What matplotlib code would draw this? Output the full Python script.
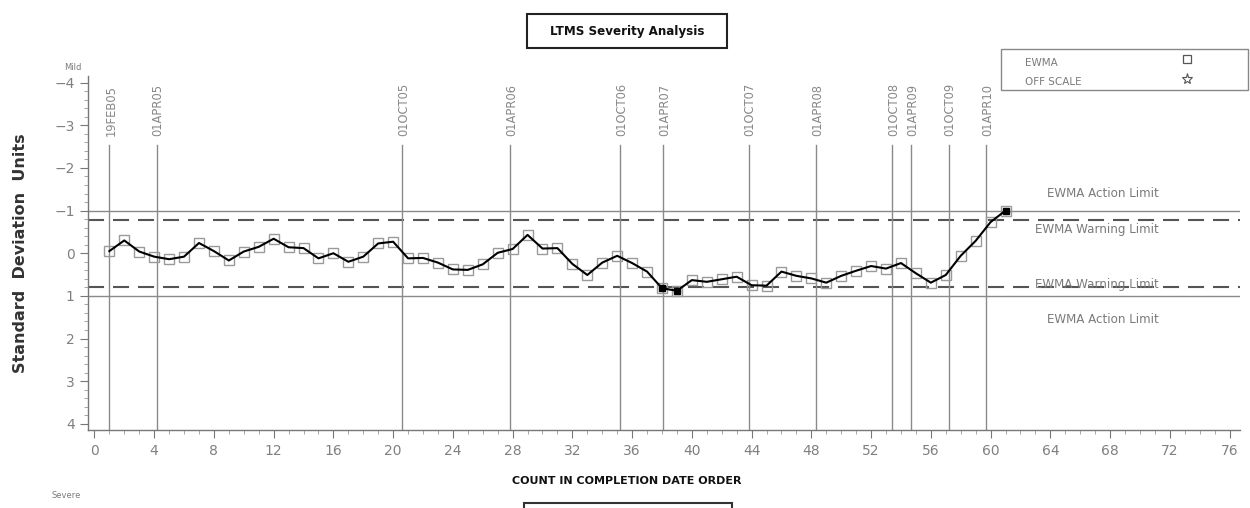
import matplotlib
matplotlib.use("Agg")
import matplotlib.pyplot as plt
from matplotlib import font_manager
from matplotlib.patches import Rectangle
from matplotlib.ticker import MultipleLocator

# pick a condensed face if there is one
installed = {f.name for f in font_manager.fontManager.ttflist}
narrow = 'Liberation Sans Narrow' if 'Liberation Sans Narrow' in installed else 'DejaVu Sans'
plt.rcParams['font.family'] = [narrow, 'DejaVu Sans']

# EWMA values in standard deviation units, one per test (count 1..61)
counts = list(range(1, 62))
ewma = [-0.05, -0.30, -0.04, 0.08, 0.14, 0.08, -0.24, -0.05, 0.17, -0.04,
        -0.15, -0.34, -0.14, -0.12, 0.12, 0.00, 0.20, 0.08, -0.23, -0.27,
        0.12, 0.11, 0.22, 0.38, 0.39, 0.26, -0.01, -0.10, -0.43, -0.11,
        -0.12, 0.25, 0.51, 0.22, 0.06, 0.23, 0.43, 0.82, 0.88, 0.63,
        0.67, 0.61, 0.55, 0.75, 0.76, 0.43, 0.53, 0.59, 0.69, 0.53,
        0.41, 0.30, 0.36, 0.23, 0.47, 0.69, 0.51, 0.06, -0.29, -0.73,
        -1.00]

action_limit = 1.0
warning_limit = 0.78

# date reference lines (position in count order)
date_labels = ['19FEB05', '01APR05', '01OCT05', '01APR06', '01OCT06', '01APR07',
               '01OCT07', '01APR08', '01OCT08', '01APR09', '01OCT09', '01APR10']
date_pos = [1.0, 4.17, 20.62, 27.84, 35.2, 38.1, 43.8, 48.33, 53.4, 54.67, 57.2, 59.72]

gray = '#7a7a7a'

fig = plt.figure(figsize=(12.5, 5.08), dpi=100)
ax = fig.add_axes([0.0704, 0.153, 0.9216, 0.697])
ax.set_xlim(-0.43, 76.7)
ax.set_ylim(4.15, -4.15)

# limits
for s in (-1, 1):
    ax.axhline(s * action_limit, color='#8a8a8a', lw=1.0, zorder=1)
    ax.axhline(s * warning_limit, color='#555555', lw=1.5, dashes=(7.7, 4.3), zorder=1)

# date lines + rotated labels
for lab, xp in zip(date_labels, date_pos):
    ax.plot([xp, xp], [-2.54, 4.15], color='#8a8a8a', lw=1.0, zorder=1)
    ax.text(xp + 0.1, -2.75, lab, rotation=90, ha='center', va='bottom',
            fontsize=8.3, color='#888888')

# EWMA series
ax.plot(counts, ewma, color='black', lw=1.5, zorder=3)
ax.plot(counts, ewma, ls='none', marker='s', ms=6.5, mfc='none',
        mec='#9a9a9a', mew=1.0, zorder=2)
out_x = [c for c, v in zip(counts, ewma) if abs(v) > warning_limit]
out_y = [v for v in ewma if abs(v) > warning_limit]
ax.plot(out_x, out_y, ls='none', marker='s', ms=5, color='black', zorder=4)

# limit names on the right
lim_kw = dict(ha='center', va='center', fontsize=8.6, color=gray)
ax.text(67.55, -1.39, 'EWMA Action Limit', **lim_kw)
ax.text(67.1, -0.55, 'EWMA Warning Limit', **lim_kw)
ax.text(67.1, 0.74, 'EWMA Warning Limit', **lim_kw)
ax.text(67.55, 1.56, 'EWMA Action Limit', **lim_kw)

# axes styling
for side in ('top', 'right'):
    ax.spines[side].set_visible(False)
for side in ('left', 'bottom'):
    ax.spines[side].set_color('#777777')
    ax.spines[side].set_linewidth(1.0)

ax.xaxis.set_major_locator(MultipleLocator(4))
ax.xaxis.set_minor_locator(MultipleLocator(1))
ax.yaxis.set_major_locator(MultipleLocator(1))
ax.yaxis.set_minor_locator(MultipleLocator(0.2))
ax.set_xticks(range(0, 77, 4))
ax.tick_params(axis='both', which='major', length=6, color='#777777',
               labelcolor='#808080', labelsize=10)
ax.tick_params(axis='both', which='minor', length=3, color='#999999')
ax.tick_params(axis='x', pad=4)

ax.set_ylabel('Standard  Deviation  Units', fontsize=11.5, fontweight='bold',
              color='#333333')
ax.yaxis.set_label_coords(-0.052, 0.5)
ax.set_xlabel('COUNT IN COMPLETION DATE ORDER', fontsize=8, fontweight='bold',
              color='#111111')
ax.xaxis.set_label_coords(0.4675, -0.128)

# figure texts
fig.text(73 / 1250, 1 - 67 / 508, 'Mild', fontsize=6, color=gray, ha='center', va='center')
fig.text(66 / 1250, 1 - 496 / 508, 'Severe', fontsize=6, color=gray, ha='center', va='center')

# title box
fig.patches.append(Rectangle((527 / 1250, 1 - 48 / 508), 200 / 1250, 34 / 508,
                             transform=fig.transFigure, fill=False,
                             edgecolor='#222222', lw=1.5))
fig.text(627 / 1250, 1 - 31 / 508, 'LTMS Severity Analysis', ha='center', va='center',
         fontsize=8.6, fontweight='bold', color='#111111')

# lower box (cut off by the page)
fig.patches.append(Rectangle((524 / 1250, -0.05), 208 / 1250, 0.05 + 5 / 508,
                             transform=fig.transFigure, fill=False,
                             edgecolor='#333333', lw=1.5))

# legend box
fig.patches.append(Rectangle((1001 / 1250, 1 - 90 / 508), 247 / 1250, 41 / 508,
                             transform=fig.transFigure, fill=False,
                             edgecolor='#888888', lw=1.0))
fig.text(1025 / 1250, 1 - 63 / 508, 'EWMA', fontsize=7.5, color=gray, va='center')
fig.text(1025 / 1250, 1 - 82 / 508, 'OFF SCALE', fontsize=7.5, color=gray, va='center')
fig.lines.append(plt.Line2D([1187 / 1250], [1 - 59 / 508], transform=fig.transFigure,
                            marker='s', ms=6, mfc='none', mec='#555555', mew=0.9))
fig.lines.append(plt.Line2D([1187 / 1250], [1 - 79 / 508], transform=fig.transFigure,
                            marker='*', ms=8, mfc='none', mec='#555555', mew=0.8))

fig.savefig('out.png', dpi=100)
